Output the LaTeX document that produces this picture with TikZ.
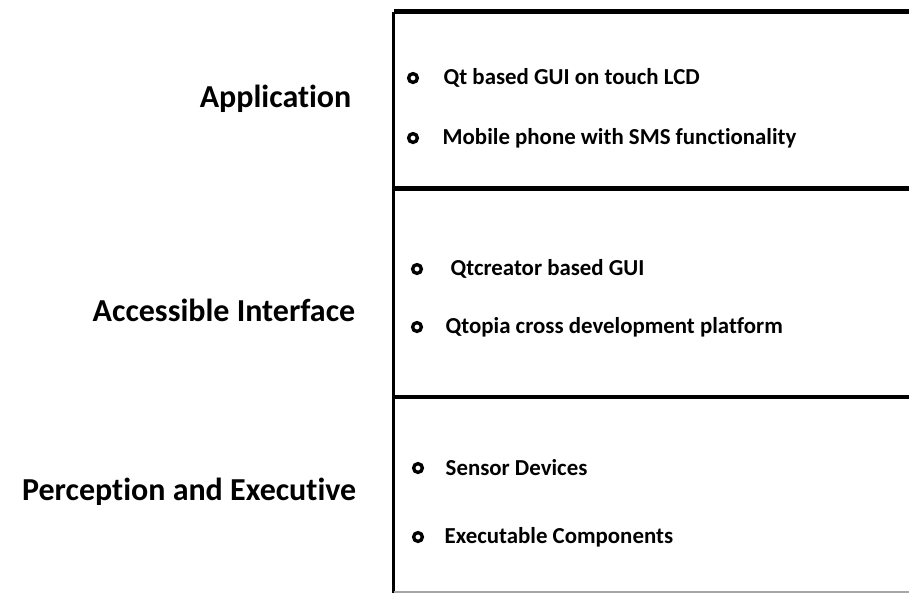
\documentclass[tikz,border=0pt]{standalone}
\usepackage{fontspec}
\setmainfont[Ligatures=NoCommon]{Carlito}
\usetikzlibrary{calc}

\tikzset{
  layer/.style={font=\bfseries\fontsize{9.1}{11}\selectfont,anchor=east,inner sep=0pt},
  item/.style={font=\bfseries\fontsize{6.5}{8}\selectfont,anchor=west,inner sep=0pt},
  bul/.style={circle,draw,line width=0.95pt,minimum size=2.5pt,inner sep=0pt},
  rule/.style={black,line width=1.2pt}
}

\begin{document}
\begin{tikzpicture} [x=0.01cm,y=-0.01cm]
\useasboundingbox (0,0) rectangle (909,593);

\coordinate (TL) at (393.5,11.5);
\coordinate (TR) at (909,11.5);
\coordinate (BL) at (393.5,593);
\coordinate (BR) at (909,592);
\coordinate (D1L) at (393.5,188.5);
\coordinate (D1R) at (909,188.5);
\coordinate (D2L) at (393.5,397);
\coordinate (D2R) at (909,397);

\draw[rule] (TL)--(TR);
\draw[rule,line width=1pt] (TL)--(BL);
\draw[rule] (D1L)--(D1R);
\draw[rule] (D2L)--(D2R);
\draw[gray!70,line width=0.3pt] (393.5,592)--(BR);

% layer names
\node (app) at (352,99) [layer] {Application};
\node (acc) at (356,310) [layer] {Accessible Interface};
\node (per) at (357,492) [layer] {Perception and Executive};

% application
\node (b1) at (413,78) [bul] {};
\node (t1) at (443,78) [item] {Qt based GUI on touch LCD};
\node (b2) at (413,138) [bul] {};
\node (t2) at (442,138) [item] {Mobile phone with SMS functionality};

% interface
\node (b3) at (417,269) [bul] {};
\node (t3) at (450,269) [item] {Qtcreator based GUI};
\node (b4) at (417,327) [bul] {};
\node (t4) at (445,327) [item] {Qtopia cross development platform};

% perception
\node (b5) at (418,468) [bul] {};
\node (t5) at (445,468) [item] {Sensor Devices};
\node (b6) at (418,537) [bul] {};
\node (t6) at (444,537) [item] {Executable Components};

\end{tikzpicture}
\end{document}
